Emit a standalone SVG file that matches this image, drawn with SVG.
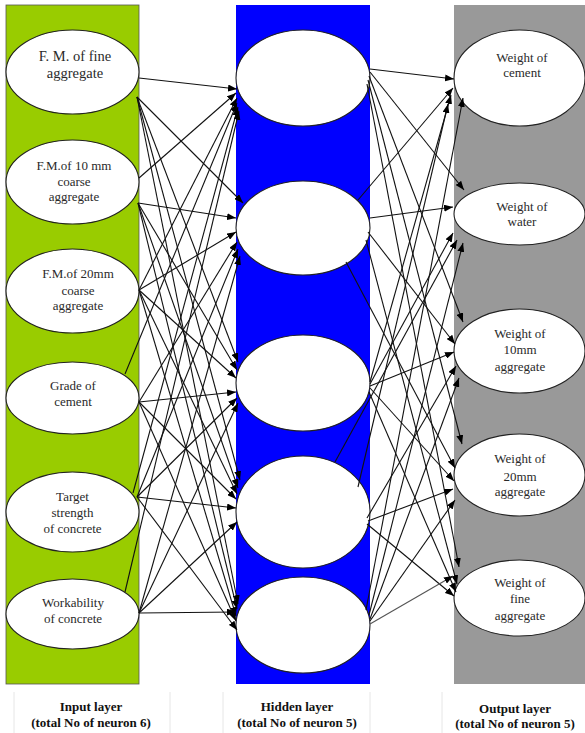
<svg xmlns="http://www.w3.org/2000/svg" width="585" height="733" viewBox="0 0 585 733">
<defs>
<style>
.nd{fill:#fff;stroke:#222;stroke-width:1.1}
.t{font-family:'Liberation Serif','DejaVu Serif',serif;font-size:13px;fill:#2a2a2a;text-anchor:middle}
.lb{font-family:'Liberation Serif','DejaVu Serif',serif;font-size:13px;font-weight:bold;fill:#111;text-anchor:middle}
.c line{stroke:#111;stroke-width:1.1;marker-end:url(#ah)}
.cell{stroke:#e6e6e6;stroke-width:1}
</style>
<marker id="ah" markerUnits="userSpaceOnUse" markerWidth="9" markerHeight="7" refX="9" refY="3.5" orient="auto">
<path d="M0,0 L9,3.5 L0,7 z" fill="#000"/>
</marker>
</defs>
<rect width="585" height="733" fill="#fff"/>
<g id="layer-input"><rect x="6" y="5" width="133" height="679" fill="#99cc00" stroke="#555" stroke-width="0.8"/></g>
<g id="layer-hidden"><rect x="236" y="5" width="134" height="679" fill="#0000ff"/></g>
<g id="layer-output"><rect x="454" y="5" width="131" height="679" fill="#999999"/></g>

<g font-family="'Liberation Serif', 'DejaVu Serif', serif">
<g id="in1"><ellipse class="nd" cx="72.5" cy="72" rx="66.5" ry="42"/><text class="t" style="font-size:14.5px" x="75" y="61">F. M. of fine</text><text class="t" style="font-size:14.5px" x="75" y="78">aggregate</text></g>
<g id="in2"><ellipse class="nd" cx="72.5" cy="182" rx="66.5" ry="42"/><text class="t" x="74" y="170">F.M.of 10 mm</text><text class="t" x="74" y="186">coarse</text><text class="t" x="74" y="201">aggregate</text></g>
<g id="in3"><ellipse class="nd" cx="72.5" cy="291" rx="66.5" ry="42"/><text class="t" x="78" y="278">F.M.of 20mm</text><text class="t" x="78" y="295">coarse</text><text class="t" x="78" y="310">aggregate</text></g>
<g id="in4"><ellipse class="nd" cx="72.5" cy="398" rx="66.5" ry="36"/><text class="t" x="73" y="390">Grade of</text><text class="t" x="73" y="406">cement</text></g>
<g id="in5"><ellipse class="nd" cx="72.5" cy="512" rx="66.5" ry="40"/><text class="t" x="72.5" y="501">Target</text><text class="t" x="72.5" y="517">strength</text><text class="t" x="72.5" y="533">of concrete</text></g>
<g id="in6"><ellipse class="nd" cx="72.5" cy="614" rx="66.5" ry="35"/><text class="t" x="73" y="607">Workability</text><text class="t" x="73" y="623">of concrete</text></g>

<g id="h1"><ellipse class="nd" cx="303" cy="78" rx="67" ry="48"/></g>
<g id="h2"><ellipse class="nd" cx="303" cy="228" rx="67" ry="47"/></g>
<g id="h3"><ellipse class="nd" cx="303" cy="383" rx="67" ry="48"/></g>
<g id="h4"><ellipse class="nd" cx="303" cy="512" rx="67" ry="56"/></g>
<g id="h5"><ellipse class="nd" cx="303" cy="625" rx="67" ry="48"/></g>

<g id="out1"><ellipse class="nd" cx="519.5" cy="78" rx="65.5" ry="48"/><text class="t" x="522" y="62">Weight of</text><text class="t" x="522" y="77">cement</text></g>
<g id="out2"><ellipse class="nd" cx="519.5" cy="214" rx="65.5" ry="31"/><text class="t" x="522" y="211">Weight of</text><text class="t" x="522" y="226">water</text></g>
<g id="out3"><ellipse class="nd" cx="519.5" cy="351" rx="65.5" ry="42"/><text class="t" x="520" y="338">Weight of</text><text class="t" x="520" y="354">10mm</text><text class="t" x="520" y="371">aggregate</text></g>
<g id="out4"><ellipse class="nd" cx="519.5" cy="475" rx="65.5" ry="41"/><text class="t" x="520" y="463">Weight of</text><text class="t" x="520" y="481">20mm</text><text class="t" x="520" y="496">aggregate</text></g>
<g id="out5"><ellipse class="nd" cx="519.5" cy="598" rx="65.5" ry="38"/><text class="t" x="520" y="587">Weight of</text><text class="t" x="520" y="603">fine</text><text class="t" x="520" y="620">aggregate</text></g>
</g>

<g id="connectors" class="c">
<line x1="139" y1="78" x2="237" y2="89"/>
<line x1="137" y1="97" x2="243" y2="203"/>
<line x1="137" y1="97" x2="238" y2="362"/>
<line x1="137" y1="97" x2="240" y2="480"/>
<line x1="137" y1="97" x2="238" y2="604"/>
<line x1="139" y1="178" x2="236" y2="93"/>
<line x1="138" y1="203" x2="236" y2="218"/>
<line x1="138" y1="203" x2="237" y2="370"/>
<line x1="138" y1="203" x2="238" y2="488"/>
<line x1="138" y1="203" x2="237" y2="609"/>
<line x1="139" y1="290" x2="237" y2="98"/>
<line x1="139" y1="290" x2="236" y2="232"/>
<line x1="139" y1="290" x2="236" y2="378"/>
<line x1="139" y1="290" x2="237" y2="494"/>
<line x1="139" y1="290" x2="236" y2="616"/>
<line x1="125" y1="374" x2="237" y2="103"/>
<line x1="139" y1="402" x2="237" y2="242"/>
<line x1="139" y1="402" x2="236" y2="392"/>
<line x1="139" y1="402" x2="236" y2="499"/>
<line x1="139" y1="402" x2="236" y2="621"/>
<line x1="133" y1="493" x2="238" y2="107"/>
<line x1="137" y1="497" x2="238" y2="249"/>
<line x1="137" y1="497" x2="237" y2="398"/>
<line x1="137" y1="497" x2="236" y2="508"/>
<line x1="137" y1="497" x2="237" y2="630"/>
<line x1="125" y1="592" x2="239" y2="111"/>
<line x1="139" y1="613" x2="240" y2="256"/>
<line x1="139" y1="613" x2="238" y2="403"/>
<line x1="139" y1="613" x2="237" y2="522"/>
<line x1="139" y1="613" x2="236" y2="612"/>

<line x1="370" y1="69" x2="454" y2="79"/>
<line x1="370" y1="72" x2="464" y2="190"/>
<line x1="369" y1="76" x2="463" y2="322"/>
<line x1="368" y1="80" x2="462" y2="444"/>
<line x1="367" y1="84" x2="459" y2="567"/>
<line x1="358" y1="200" x2="453" y2="88"/>
<line x1="370" y1="218" x2="453" y2="207"/>
<line x1="368" y1="232" x2="455" y2="344"/>
<line x1="346" y1="262" x2="455" y2="468"/>
<line x1="366" y1="240" x2="457" y2="584"/>
<line x1="370" y1="382" x2="451" y2="95"/>
<line x1="370" y1="384" x2="453" y2="233"/>
<line x1="370" y1="386" x2="454" y2="352"/>
<line x1="370" y1="388" x2="454" y2="481"/>
<line x1="369" y1="392" x2="456" y2="592"/>
<line x1="358" y1="487" x2="448" y2="104"/>
<line x1="335" y1="462" x2="457" y2="240"/>
<line x1="367" y1="518" x2="456" y2="366"/>
<line x1="368" y1="521" x2="453" y2="489"/>
<line x1="367" y1="524" x2="454" y2="596"/>
<line x1="366" y1="610" x2="463" y2="98"/>
<line x1="369" y1="615" x2="463" y2="243"/>
<line x1="370" y1="619" x2="459" y2="378"/>
<line x1="370" y1="621" x2="455" y2="500"/>
<line x1="370" y1="624" x2="453" y2="576" style="stroke:#555"/>
</g>

<g id="labels" font-family="'Liberation Serif', 'DejaVu Serif', serif">
<line class="cell" x1="14" y1="692" x2="14" y2="733"/>
<line class="cell" x1="170" y1="692" x2="170" y2="733"/>
<line class="cell" x1="223" y1="692" x2="223" y2="733"/>
<line class="cell" x1="370" y1="692" x2="370" y2="733"/>
<line class="cell" x1="442" y1="692" x2="442" y2="733"/>
<text class="lb" x="91" y="711">Input layer</text>
<text class="lb" x="91" y="727">(total No of neuron 6)</text>
<text class="lb" x="297" y="711">Hidden layer</text>
<text class="lb" x="297" y="727">(total No of neuron 5)</text>
<text class="lb" x="515" y="713">Output layer</text>
<text class="lb" x="515" y="728">(total No of neuron 5)</text>
</g>
</svg>
